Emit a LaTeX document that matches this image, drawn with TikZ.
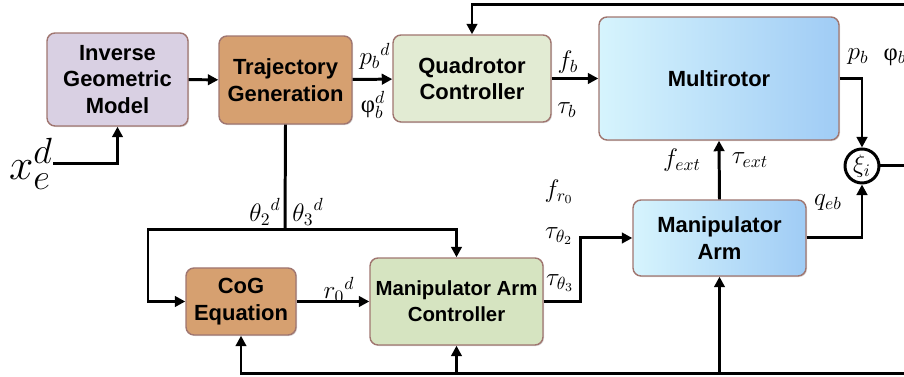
\documentclass[tikz,border=0pt]{standalone}
\usepackage{fontspec}
\setmainfont{Liberation Sans}
\newfontfamily\phifont{Liberation Serif}
\usetikzlibrary{positioning,shapes,arrows.meta,calc,shadows}

\definecolor{boxedge}{RGB}{160,118,112}
\definecolor{igmfill}{RGB}{217,208,227}
\definecolor{trajfill}{RGB}{214,160,112}
\definecolor{quadfill}{RGB}{226,235,211}
\definecolor{macfill}{RGB}{214,228,193}
\definecolor{mrlight}{RGB}{214,244,253}
\definecolor{mrdark}{RGB}{160,204,245}

\begin{document}
\begin{tikzpicture}[
    x=0.02cm, y=-0.02cm,
    block/.style={rectangle, rounded corners=0.16cm, draw=boxedge, line width=0.8pt, align=center,
        font=\fontsize{12.5}{15}\selectfont\bfseries,
        drop shadow={shadow xshift=0.6pt, shadow yshift=-0.6pt, opacity=0.3}},
    lavender/.style={fill=igmfill},
    clay/.style={fill=trajfill},
    sage/.style={fill=quadfill},
    sky/.style={left color=mrlight, right color=mrdark},
    flow/.style={line width=1.7pt, -{Triangle[length=6pt,width=6pt]}},
    sig/.style={font=\fontsize{14}{16}\selectfont, inner sep=1pt}
]
    \useasboundingbox (0,0) rectangle (904,377);

    % blocks
    \node[block, lavender, minimum width=2.82cm, minimum height=1.86cm] (igm) at (117.5,79.5) {Inverse\\Geometric\\Model};
    \node[block, clay, minimum width=2.66cm, minimum height=1.76cm] (traj) at (285.5,80) {Trajectory\\Generation};
    \node[block, sage, minimum width=3.16cm, minimum height=1.74cm] (quad) at (472,78.5) {Quadrotor\\Controller};
    \node[block, sky, minimum width=4.8cm, minimum height=2.46cm] (multi) at (719,78.5) {Multirotor};
    \node[block, sky, minimum width=3.46cm, minimum height=1.52cm] (arm) at (719.5,238) {Manipulator\\Arm};
    \node[block, clay, minimum width=2.2cm, minimum height=1.34cm] (cog) at (241,301.5) {CoG\\Equation};
    \node[block, fill=macfill, inner sep=1pt, font=\fontsize{11.6}{15}\selectfont\bfseries,
        minimum width=3.46cm, minimum height=1.74cm] (mac) at (456.5,301.5) {Manipulator Arm\\Controller};
    \node[circle, draw, line width=1.7pt, fill=white, minimum size=0.68cm, inner sep=0pt,
        font=\fontsize{14}{16}\selectfont] (xi) at (862,166) {$\xi_i$};

    % signal labels
    \node[font=\fontsize{28}{30}\selectfont, inner sep=0pt] (xed) at (31,164) {$x_e^d$};
    \node[sig] (pbd) at (375,56) {${p_b}^{d}$};
    \node[sig] (phibd) at (373,105) {{\phifont φ}$_b^d$};
    \node[sig] (fb) at (568,62) {$f_b$};
    \node[sig] (taub) at (567,110) {$\tau_b$};
    \node[sig] (pb) at (858,57) {$p_b$};
    \node[sig] (phib) at (895,57) {{\phifont φ}$_b$};
    \node[sig] (th2) at (265,212) {${\theta_2}^{d}$};
    \node[sig] (th3) at (308,212) {${\theta_3}^{d}$};
    \node[sig] (r0) at (339,290) {${r_0}^{d}$};
    \node[sig] (fr0) at (559,192) {$f_{r_0}$};
    \node[sig] (tau2) at (559,236) {$\tau_{\theta_2}$};
    \node[sig] (tau3) at (560,283) {$\tau_{\theta_3}$};
    \node[sig] (fext) at (682,160) {$f_{ext}$};
    \node[sig] (tauext) at (750,160) {$\tau_{ext}$};
    \node[sig] (qeb) at (828,203) {$q_{eb}$};

    \coordinate (split) at (285,230);
    \coordinate (lft) at (148,230);
    \coordinate (topR) at (904,5);
    \coordinate (botR) at (904,374);

    % connectors
    \draw[flow] (xed.east) -| (igm.south);
    \draw[flow] (igm) -- (traj);
    \draw[flow] (traj) -- (quad);
    \draw[flow] (quad) -- (multi);
    \draw[flow] (multi.east) -| (xi.north);
    \draw[flow] (arm.east) -| (xi.south);
    \draw[line width=1.7pt] (xi.east) -- (xi.east -| topR);
    \draw[flow] (topR) -| (quad.north);
    \draw[line width=1.7pt] (traj.south) -- (split);
    \draw[flow] (split) -- (lft) |- (cog.west);
    \draw[flow] (split) -| (mac.north);
    \draw[flow] (cog) -- (mac);
    \draw[flow] (mac.east) -- ++(37,0) |- (arm.west);
    \draw[flow] (arm.north) -- (multi.south);
    \draw[flow] (botR) -| (cog.south);
    \draw[flow] (mac.south |- botR) -- (mac.south);
    \draw[flow] (arm.south |- botR) -- (arm.south);
\end{tikzpicture}
\end{document}
